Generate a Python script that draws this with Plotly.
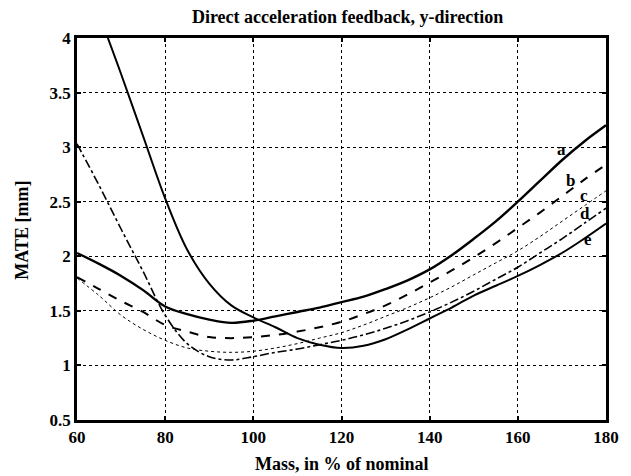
import plotly.graph_objects as go

# Mass, in % of nominal
xa = [60, 65, 70, 75, 80, 85, 90, 95, 100, 105, 110, 115, 120, 125, 130, 135, 140, 145, 150, 155, 160, 165, 170, 175, 180]
a = [2.03, 1.93, 1.82, 1.69, 1.54, 1.47, 1.42, 1.39, 1.41, 1.45, 1.49, 1.53, 1.58, 1.63, 1.70, 1.78, 1.88, 2.01, 2.16, 2.32, 2.50, 2.69, 2.88, 3.05, 3.20]
b = [1.81, 1.70, 1.59, 1.49, 1.37, 1.31, 1.26, 1.25, 1.26, 1.28, 1.31, 1.35, 1.40, 1.47, 1.55, 1.65, 1.76, 1.87, 1.99, 2.12, 2.26, 2.40, 2.55, 2.70, 2.84]
c = [1.80, 1.64, 1.46, 1.33, 1.23, 1.16, 1.13, 1.12, 1.13, 1.16, 1.20, 1.25, 1.30, 1.37, 1.45, 1.53, 1.62, 1.72, 1.83, 1.94, 2.05, 2.18, 2.32, 2.46, 2.60]
d = [3.03, 2.65, 2.25, 1.86, 1.46, 1.20, 1.08, 1.05, 1.08, 1.12, 1.15, 1.19, 1.23, 1.28, 1.34, 1.41, 1.49, 1.58, 1.68, 1.79, 1.90, 2.03, 2.16, 2.30, 2.44]
xe = [67, 70, 75, 80, 85, 90, 95, 100, 105, 110, 115, 120, 125, 130, 135, 140, 145, 150, 155, 160, 165, 170, 175, 180]
e = [4.00, 3.67, 3.10, 2.53, 2.06, 1.75, 1.55, 1.44, 1.35, 1.25, 1.19, 1.16, 1.18, 1.24, 1.33, 1.43, 1.53, 1.64, 1.73, 1.82, 1.92, 2.03, 2.16, 2.30]

labels = ["a", "b", "c", "d", "e"]
label_x = [170, 171.9, 175, 175.3, 175.9]
label_y = [2.98, 2.69, 2.56, 2.39, 2.15]

font_family = "Liberation Serif"

fig = go.Figure()
series = [
    (xa, a, dict(color="black", width=2.4, dash="solid")),
    (xa, b, dict(color="black", width=2.0, dash="dash")),
    (xa, c, dict(color="black", width=1.0, dash="dot")),
    (xa, d, dict(color="black", width=1.6, dash="dashdot")),
    (xe, e, dict(color="black", width=2.0, dash="solid")),
]
for xs, ys, ln in series:
    fig.add_trace(go.Scatter(x=xs, y=ys, mode="lines",
                             line=dict(shape="spline", smoothing=1.0, **ln),
                             showlegend=False, hoverinfo="skip"))

for t, lx, ly in zip(labels, label_x, label_y):
    fig.add_annotation(x=lx, y=ly, text=f"<b>{t}</b>", showarrow=False,
                       xanchor="center", yanchor="middle",
                       font=dict(family=font_family, size=17, color="black"))

fig.add_annotation(xref="paper", yref="paper", x=0.5, y=-0.115,
                   xanchor="center", yanchor="middle",
                   text="<b>Mass, in % of nominal</b>", showarrow=False,
                   font=dict(family=font_family, size=18, color="black"))
fig.add_annotation(xref="paper", yref="paper", x=-0.103, y=0.497,
                   xanchor="center", yanchor="middle",
                   text="<b>MATE [mm]</b>", showarrow=False, textangle=-90,
                   font=dict(family=font_family, size=18, color="black"))

axis_common = dict(showline=True, linecolor="black", linewidth=2.5, mirror="ticks",
                   ticks="inside", ticklen=4, tickcolor="black", tickwidth=1.5,
                   showgrid=True, gridcolor="black", gridwidth=1, griddash="dot",
                   zeroline=False,
                   tickfont=dict(family=font_family, size=17, color="black"))

fig.update_xaxes(range=[60, 180], dtick=20, tick0=60,
                 tickprefix="<b>", ticksuffix="</b>", **axis_common)
fig.update_yaxes(range=[0.5, 4], dtick=0.5, tick0=0.5,
                 tickprefix="<b>", ticksuffix="</b>", **axis_common)

# page body has an 8px margin: shrink the figure so the plot area lands where the reference has it
fig.update_layout(
    width=623, height=468,
    margin=dict(l=69, r=20, t=30, b=56),
    paper_bgcolor="white", plot_bgcolor="white",
    title=dict(text="<b>Direct acceleration feedback, y-direction</b>",
               x=0.545, xanchor="center", yref="container", y=0.981, yanchor="middle",
               font=dict(family=font_family, size=18, color="black")),
)

fig.write_html("out.html")
